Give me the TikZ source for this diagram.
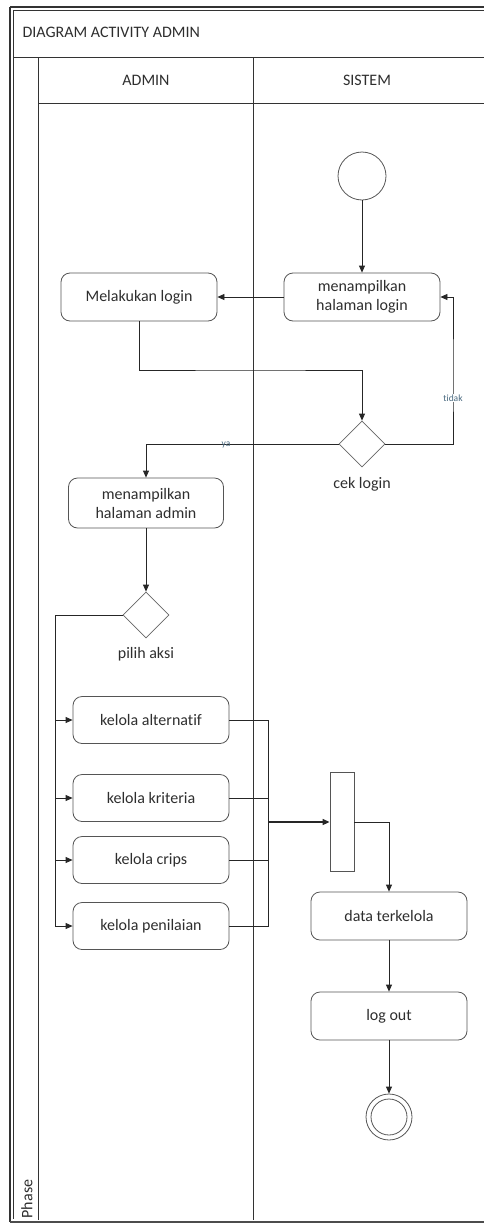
\documentclass[tikz,border=0pt]{standalone}
\usepackage{fontspec}
\setmainfont{Carlito}[Ligatures=NoCommon]
\usetikzlibrary{shapes.geometric,arrows.meta}

\definecolor{ink}{HTML}{2E2E2E}
\definecolor{edge}{HTML}{555555}
\definecolor{guard}{HTML}{4A6A80}

\tikzset{
  txt/.style={font=\fontsize{16}{19}\selectfont, text=ink},
  act/.style={txt, draw=edge, line width=0.8pt, rounded corners=9pt,
    minimum width=156pt, minimum height=48pt, align=center, inner sep=2pt},
  dec/.style={diamond, draw=edge!90, line width=0.8pt, minimum size=46pt, inner sep=0pt},
  flow/.style={draw=black!85, line width=0.8pt, -{Triangle[length=7pt,width=6pt]}},
  wire/.style={draw=black!85, line width=0.8pt},
  lane/.style={draw=black!80, line width=0.8pt},
  guardlbl/.style={font=\fontsize{9.5}{11}\selectfont, text=guard, inner sep=1pt}
}

\begin{document}
\begin{tikzpicture}[x=1pt,y=-1pt]
\useasboundingbox (0,0) rectangle (483,1226);

% frame and swimlanes
\draw[black!80, line width=1.3pt] (10,7) -- (490,7);
\draw[black!80, line width=1.3pt] (10,7) -- (10,1222);
\draw[black!70, line width=2pt] (10,1222) -- (490,1222);
\draw[lane] (13,10) -- (490,10);
\draw[lane] (13,10) -- (13,1219);
\draw[lane] (13,57) -- (490,57);
\draw[lane] (38,103) -- (490,103);
\draw[lane] (38,57) -- (38,1220);
\draw[lane] (253,57) -- (253,1220);

\node[txt, anchor=west] (title) at (19,32) {DIAGRAM ACTIVITY ADMIN};
\node[txt] (hadmin) at (146,80) {ADMIN};
\node[txt] (hsistem) at (367,80) {SISTEM};
\node[txt, rotate=90] (phase) at (27,1199) {Phase};

% activity nodes
\node[circle, draw=edge, line width=0.8pt, minimum size=48pt] (start) at (362,176) {};
\node[act] (loginpg) at (362,297) {menampilkan\\halaman login};
\node[act] (mel) at (139,297) {Melakukan login};
\node[dec] (cek) at (362,444) {};
\node[txt, anchor=north] (ceklbl) at (362,474) {cek login};
\node[act, minimum width=155pt, minimum height=50pt] (admin) at (146,503) {menampilkan\\halaman admin};
\node[dec] (pilih) at (146,615) {};
\node[txt, anchor=north] (pilihlbl) at (146,644) {pilih aksi};

\node[act, minimum height=47pt] (alt) at (151,720) {kelola alternatif};
\node[act, minimum height=47pt] (kri) at (151,798) {kelola kriteria};
\node[act, minimum height=47pt] (cri) at (151,860) {kelola crips};
\node[act, minimum height=47pt] (pen) at (151,926) {kelola penilaian};

\node[draw=edge, line width=0.8pt, minimum width=24pt, minimum height=99pt, inner sep=0pt] (bar) at (342,822) {};
\node[act] (data) at (389,916) {data terkelola};
\node[act] (logout) at (389,1016) {log out};
\node[circle, draw=edge, line width=0.8pt, minimum size=46pt] (final) at (389,1117) {};
\draw[edge, line width=0.8pt] (final.center) circle (18pt);

% connectors
\coordinate (j1) at (250,370);
\coordinate (loop) at (453,380);
\coordinate (rail) at (55,615);
\coordinate (jx) at (268,822);

\draw[flow] (start) -- (loginpg);
\draw[flow] (loginpg.west) -- (mel.east);
\draw[flow] (mel.south) |- (j1) -| (cek.north);
\draw[flow] (cek.east) -| (loop) |- (loginpg.east);
\node[guardlbl, fill=white] (tidak) at (453,398) {tidak};
\draw[flow] (cek.west) -| (admin.north);
\node[guardlbl] (ya) at (226,445) {ya};
\draw[flow] (admin) -- (pilih);

\draw[wire] (pilih.west) -- (rail) -- (rail |- pen.west);
\foreach \n in {alt,kri,cri,pen}
  \draw[flow] (rail |- \n.west) -- (\n.west);

\draw[wire] (alt.east) -- (alt.east -| jx) -- (pen.east -| jx) -- (pen.east);
\draw[wire] (kri.east) -- (kri.east -| jx);
\draw[wire] (cri.east) -- (cri.east -| jx);
\draw[flow, line width=1.4pt] (jx) -- (bar.west);

\draw[flow] (bar.east) -| (data.north);
\draw[flow] (data) -- (logout);
\draw[flow] (logout) -- (final);
\end{tikzpicture}
\end{document}
